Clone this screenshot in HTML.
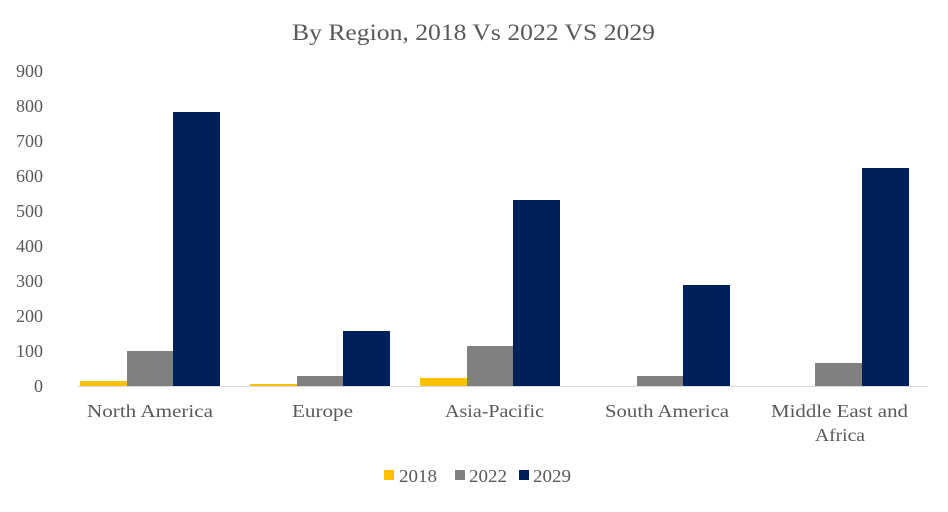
<!DOCTYPE html>
<html><head><meta charset="utf-8"><style>
body{margin:0;background:#fff;}
svg text{font-family:"Liberation Serif",serif;fill:#595959;}
</style></head><body>
<svg width="948" height="507" xmlns="http://www.w3.org/2000/svg">
<rect width="948" height="507" fill="#fff"/>
<text x="292" y="40" font-size="23" textLength="363" lengthAdjust="spacingAndGlyphs">By Region, 2018 Vs 2022 VS 2029</text>
<g font-size="18" text-anchor="end">
<text x="43" y="392">0</text>
<text x="43" y="357">100</text>
<text x="43" y="322">200</text>
<text x="43" y="287">300</text>
<text x="43" y="252">400</text>
<text x="43" y="217">500</text>
<text x="43" y="182">600</text>
<text x="43" y="147">700</text>
<text x="43" y="112">800</text>
<text x="43" y="77">900</text>
</g>
<g>
<rect x="80" y="381" width="47" height="5" fill="#FFC000"/>
<rect x="127" y="351" width="46" height="35" fill="#808080"/>
<rect x="173" y="112" width="47" height="274" fill="#00205B"/>
<rect x="250" y="384" width="47" height="2" fill="#FFC000"/>
<rect x="297" y="376" width="46" height="10" fill="#808080"/>
<rect x="343" y="331" width="47" height="55" fill="#00205B"/>
<rect x="420" y="378" width="47" height="8" fill="#FFC000"/>
<rect x="467" y="346" width="46" height="40" fill="#808080"/>
<rect x="513" y="200" width="47" height="186" fill="#00205B"/>
<rect x="637" y="376" width="46" height="10" fill="#808080"/>
<rect x="683" y="285" width="47" height="101" fill="#00205B"/>
<rect x="815" y="363" width="47" height="23" fill="#808080"/>
<rect x="862" y="168" width="47" height="218" fill="#00205B"/>
</g>
<line x1="78" y1="386.5" x2="928" y2="386.5" stroke="#d9d9d9" stroke-width="1"/>
<g font-size="18" lengthAdjust="spacingAndGlyphs">
<text x="87" y="417" textLength="126" lengthAdjust="spacingAndGlyphs">North America</text>
<text x="292" y="417" textLength="61" lengthAdjust="spacingAndGlyphs">Europe</text>
<text x="445" y="417" textLength="99" lengthAdjust="spacingAndGlyphs">Asia-Pacific</text>
<text x="605" y="417" textLength="124" lengthAdjust="spacingAndGlyphs">South America</text>
<text x="771" y="417" textLength="137" lengthAdjust="spacingAndGlyphs">Middle East and</text>
<text x="815" y="441" textLength="50" lengthAdjust="spacingAndGlyphs">Africa</text>
</g>
<g font-size="18">
<rect x="384" y="470" width="10" height="10" fill="#FFC000"/>
<text x="399" y="482" textLength="38" lengthAdjust="spacingAndGlyphs">2018</text>
<rect x="455" y="470" width="10" height="10" fill="#808080"/>
<text x="469" y="482" textLength="38" lengthAdjust="spacingAndGlyphs">2022</text>
<rect x="519" y="470" width="10" height="10" fill="#00205B"/>
<text x="533" y="482" textLength="38" lengthAdjust="spacingAndGlyphs">2029</text>
</g>
</svg>
</body></html>
